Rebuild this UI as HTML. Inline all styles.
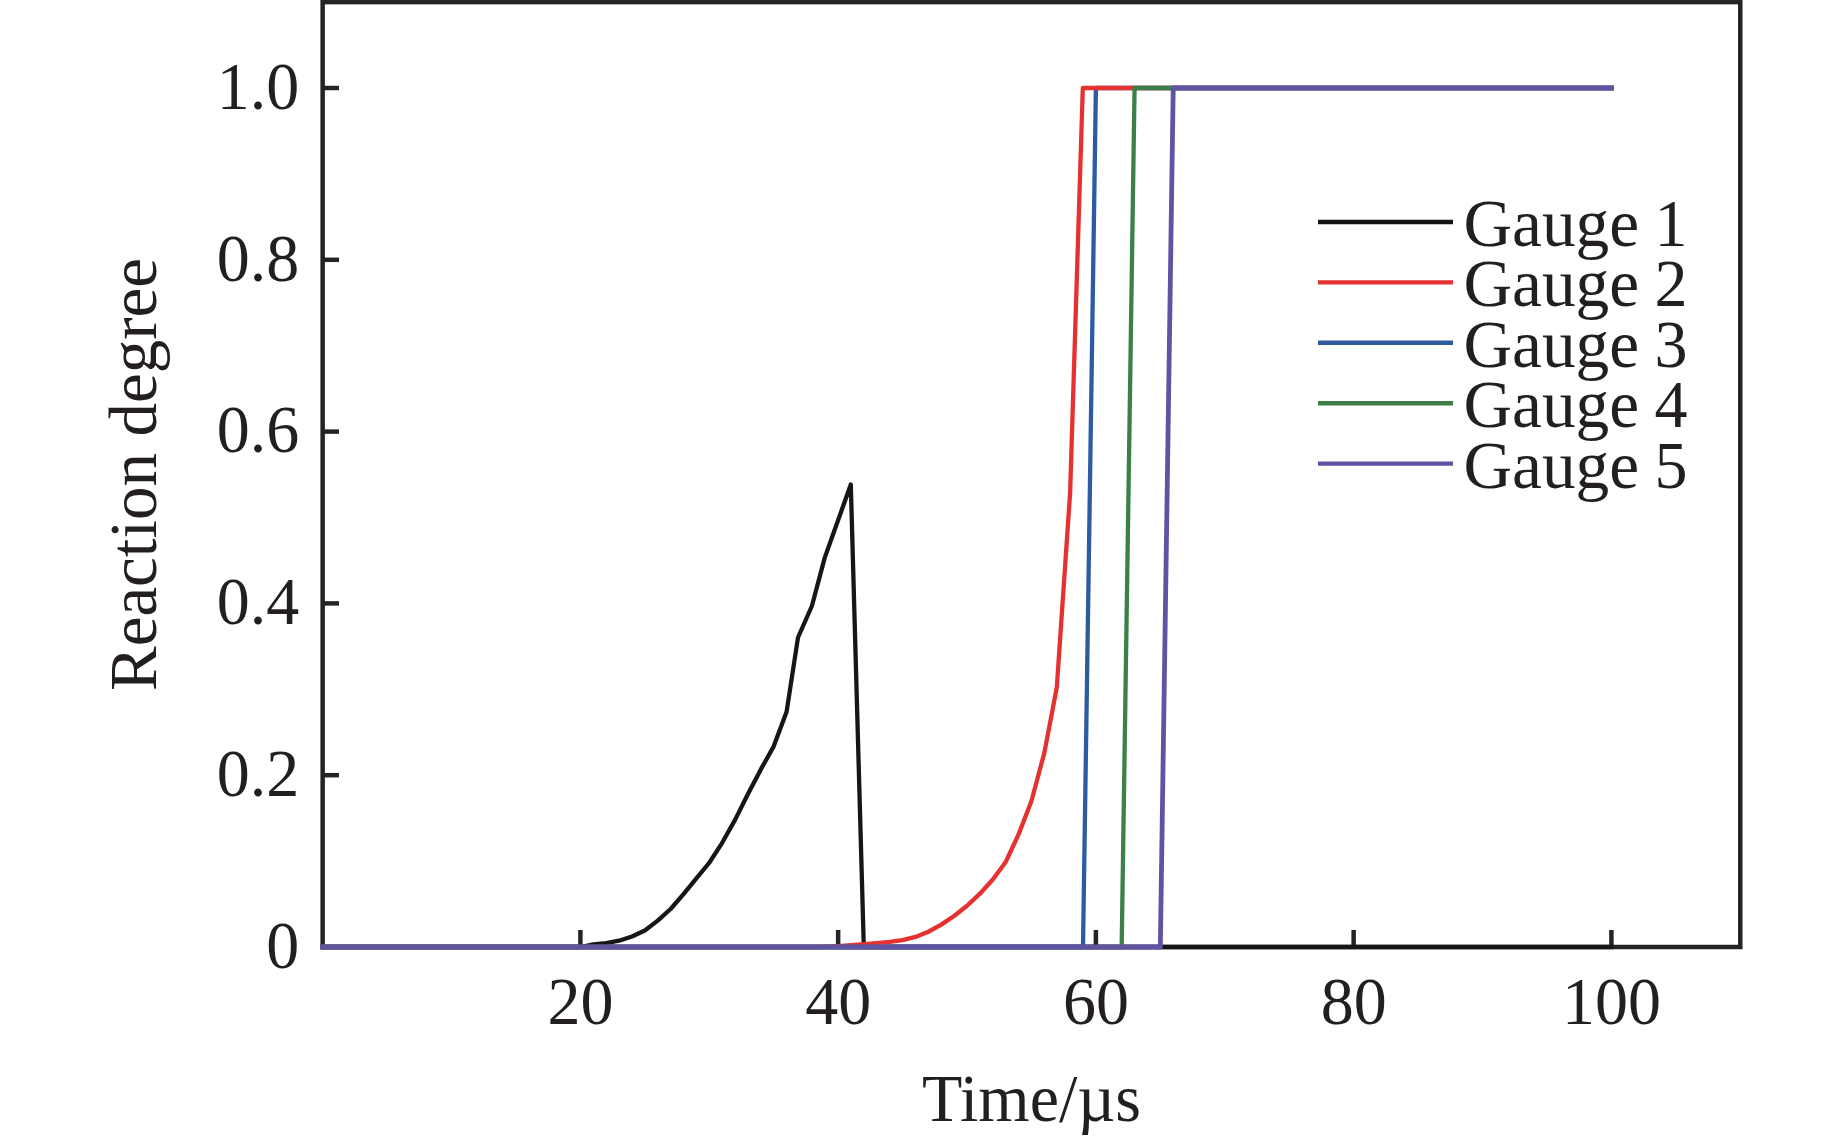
<!DOCTYPE html>
<html><head><meta charset="utf-8"><style>
html,body{margin:0;padding:0;background:#fff;overflow:hidden;}
svg{display:block;}
</style></head><body>
<svg width="1843" height="1141" viewBox="0 0 1843 1141"><rect width="1843" height="1141" fill="#ffffff"/><g stroke="#262324" stroke-width="4.5" fill="none" stroke-linecap="butt"><rect x="322.65" y="2.10" width="1417.62" height="944.90" stroke-linejoin="miter"/><line x1="580.40" y1="947.00" x2="580.40" y2="930"/><line x1="838.15" y1="947.00" x2="838.15" y2="930"/><line x1="1095.90" y1="947.00" x2="1095.90" y2="930"/><line x1="1353.65" y1="947.00" x2="1353.65" y2="930"/><line x1="1611.40" y1="947.00" x2="1611.40" y2="930"/><line x1="322.65" y1="775.20" x2="339" y2="775.20"/><line x1="322.65" y1="603.40" x2="339" y2="603.40"/><line x1="322.65" y1="431.60" x2="339" y2="431.60"/><line x1="322.65" y1="259.80" x2="339" y2="259.80"/><line x1="322.65" y1="88.00" x2="339" y2="88.00"/></g><g fill="none" stroke-linejoin="round" stroke-linecap="square"><polyline points="322.65,947.00 580.40,947.00 593.29,944.48 606.17,943.15 619.06,940.71 631.95,936.43 644.84,930.44 657.72,920.65 670.61,908.98 683.50,894.03 696.39,878.39 709.27,862.75 722.16,842.82 735.05,819.89 747.94,794.02 760.82,769.40 773.71,746.33 786.60,711.79 798.00,637.50 811.90,606.00 824.70,557.90 850.80,484.50 863.80,947.00 1611.40,947.00" stroke="#151715" stroke-width="4.3"/><polyline points="322.65,947.00 1083.01,947.00 1095.90,88.00 1611.40,88.00" stroke="#2e5aa2" stroke-width="4.3"/><polyline points="322.65,947.00 812.38,947.00 825.26,946.76 838.15,946.14 851.04,945.10 863.92,944.09 876.81,943.07 889.70,941.89 902.59,940.11 915.47,936.96 928.36,931.75 941.25,924.64 954.14,915.97 967.02,905.71 979.91,893.68 992.80,879.52 1005.69,861.99 1018.57,834.39 1031.46,800.99 1044.35,752.90 1056.80,687.40 1070.10,493.00 1082.80,88.00 1611.40,88.00" stroke="#e53230" stroke-width="4.3"/><polyline points="322.65,947.00 1121.67,947.00 1134.56,88.00 1611.40,88.00" stroke="#3c8048" stroke-width="4.3"/><polyline points="322.65,947.00 1160.34,947.00 1173.22,88.00 1611.40,88.00" stroke="#6053a4" stroke-width="4.8"/></g><g font-family="Liberation Serif" font-size="66" fill="#231f20"><text transform="translate(299.2,967.80) scale(1,1.028)" text-anchor="end">0</text><text transform="translate(299.2,796.00) scale(1,1.028)" text-anchor="end">0.2</text><text transform="translate(299.2,624.20) scale(1,1.028)" text-anchor="end">0.4</text><text transform="translate(299.2,452.40) scale(1,1.028)" text-anchor="end">0.6</text><text transform="translate(299.2,280.60) scale(1,1.028)" text-anchor="end">0.8</text><text transform="translate(299.2,108.80) scale(1,1.028)" text-anchor="end">1.0</text><text transform="translate(580.40,1023.7) scale(1,1.028)" text-anchor="middle">20</text><text transform="translate(838.15,1023.7) scale(1,1.028)" text-anchor="middle">40</text><text transform="translate(1095.90,1023.7) scale(1,1.028)" text-anchor="middle">60</text><text transform="translate(1353.65,1023.7) scale(1,1.028)" text-anchor="middle">80</text><text transform="translate(1611.40,1023.7) scale(1,1.028)" text-anchor="middle">100</text><text transform="translate(1031.5,1120.8) scale(1,1.025)" text-anchor="middle">Time/µs</text><text transform="translate(155.8,474.5) rotate(-90) scale(1.014,1.03)" text-anchor="middle">Reaction degree</text><line x1="1318" y1="222.00" x2="1453" y2="222.00" stroke="#151715" stroke-width="4.4"/><text transform="translate(1463.4,246.00) scale(1.02,1.03)">Gauge</text><text transform="translate(1654.5,246.00) scale(1,1.04)">1</text><line x1="1318" y1="282.40" x2="1453" y2="282.40" stroke="#e53230" stroke-width="4.4"/><text transform="translate(1463.4,306.40) scale(1.02,1.03)">Gauge</text><text transform="translate(1654.5,306.40) scale(1,1.04)">2</text><line x1="1318" y1="342.80" x2="1453" y2="342.80" stroke="#2e5aa2" stroke-width="4.4"/><text transform="translate(1463.4,366.80) scale(1.02,1.03)">Gauge</text><text transform="translate(1654.5,366.80) scale(1,1.04)">3</text><line x1="1318" y1="403.20" x2="1453" y2="403.20" stroke="#3c8048" stroke-width="4.4"/><text transform="translate(1463.4,427.20) scale(1.02,1.03)">Gauge</text><text transform="translate(1654.5,427.20) scale(1,1.04)">4</text><line x1="1318" y1="463.60" x2="1453" y2="463.60" stroke="#6053a4" stroke-width="4.4"/><text transform="translate(1463.4,487.60) scale(1.02,1.03)">Gauge</text><text transform="translate(1654.5,487.60) scale(1,1.04)">5</text></g></svg>
</body></html>
